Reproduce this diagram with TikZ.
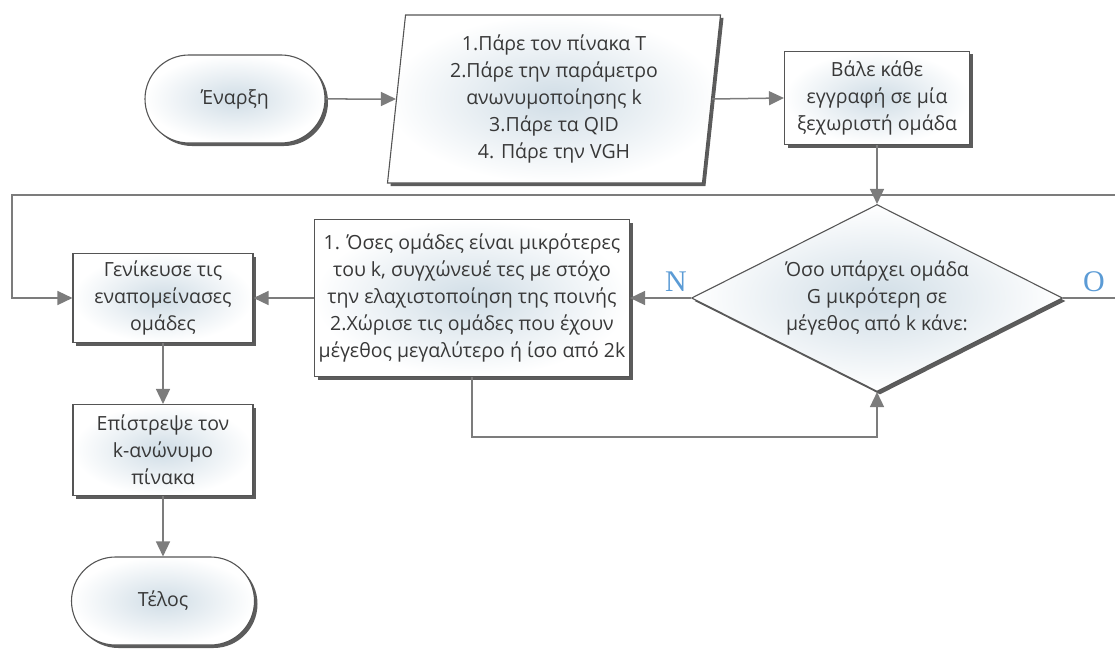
\documentclass[tikz,border=0pt]{standalone}
\usepackage{fontspec}
\setmainfont{Open Sans}
\newfontfamily\labelfont{Liberation Serif}
\usetikzlibrary{shapes.geometric,shadows,arrows.meta}

\definecolor{txt}{HTML}{383838}
\definecolor{edge}{HTML}{555555}
\definecolor{wire}{HTML}{7C7C7C}
\definecolor{core}{HTML}{D0DDE6}
\definecolor{lbl}{HTML}{5B9BD5}

\begin{document}
\begin{tikzpicture}[x=1pt,y=-1pt,
  base/.style={draw=edge, line width=1.1pt, inner color=core, outer color=white, text=txt,
    font=\fontsize{19.5}{27}\selectfont, align=center, inner sep=0pt,
    drop shadow={shadow xshift=3pt, shadow yshift=-3pt, fill=black!85, opacity=0.75}},
  term/.style={base, rectangle, rounded corners=44pt, minimum width=180pt, minimum height=88pt},
  proc/.style={base, rectangle},
  io/.style={base, trapezium, trapezium left angle=82, trapezium right angle=98,
    trapezium stretches body, minimum width=333pt, minimum height=168pt},
  cond/.style={base, diamond, aspect=1.98, minimum width=371pt, minimum height=187pt},
  conn/.style={draw=wire, line width=1.5pt, -{Triangle[length=15pt,width=14pt]}},
  branch/.style={text=lbl, font=\labelfont\fontsize{30}{30}\selectfont}
]
\useasboundingbox (0,0) rectangle (1115,650);
\clip (0,0) rectangle (1115,650);

% nodes
\node[term] (start) at (235,99) {Έναρξη};
\node[io] (input) at (554,99) {1.Πάρε τον πίνακα T\\2.Πάρε την παράμετρο\\ανωνυμοποίησης k\\3.Πάρε τα QID\\4. Πάρε την VGH};
\node[proc, minimum width=185pt, minimum height=93pt] (place) at (877,98)
  {Βάλε κάθε\\εγγραφή σε μία\\ξεχωριστή ομάδα};
\node[cond] (check) at (877,298) {Όσο υπάρχει ομάδα\\G μικρότερη σε\\μέγεθος από k κάνε:};
\node[proc, minimum width=315pt, minimum height=157pt] (merge) at (472,298)
  {1. Όσες ομάδες είναι μικρότερες\\του k, συγχώνευέ τες με στόχο\\την ελαχιστοποίηση της ποινής\\2.Χώρισε τις ομάδες που έχουν\\μέγεθος μεγαλύτερο ή ίσο από 2k};
\node[proc, minimum width=180pt, minimum height=89pt] (gen) at (163,298)
  {Γενίκευσε τις\\εναπομείνασες\\ομάδες};
\node[proc, minimum width=180pt, minimum height=91pt] (ret) at (163,450)
  {Επίστρεψε τον\\k-ανώνυμο\\πίνακα};
\node[term, minimum width=183pt] (stop) at (163,601) {Τέλος};

% branch labels
\node[branch] (yes) at (676,282) {Ν};
\node[branch] (no) at (1094,282) {Ο};

% helper corners for the loops
\coordinate (loopB) at (877,437);
\coordinate (wrapR) at (1135,195);
\coordinate (wrapL) at (12,195);

% connectors
\draw[conn] (start.east) -- (input.west);
\draw[conn] (input.east) -- (place.west);
\draw[conn] (place.south) -- (check.north);
\draw[conn] (check.west) -- (merge.east);
\draw[conn] (merge.south) |- (loopB) -- (check.south);
\draw[conn] (merge.west) -- (gen.east);
\draw[conn] (check.east) -| (wrapR) -- (wrapL) |- (gen.west);
\draw[conn] (gen.south) -- (ret.north);
\draw[conn] (ret.south) -- (stop.north);
\end{tikzpicture}
\end{document}
